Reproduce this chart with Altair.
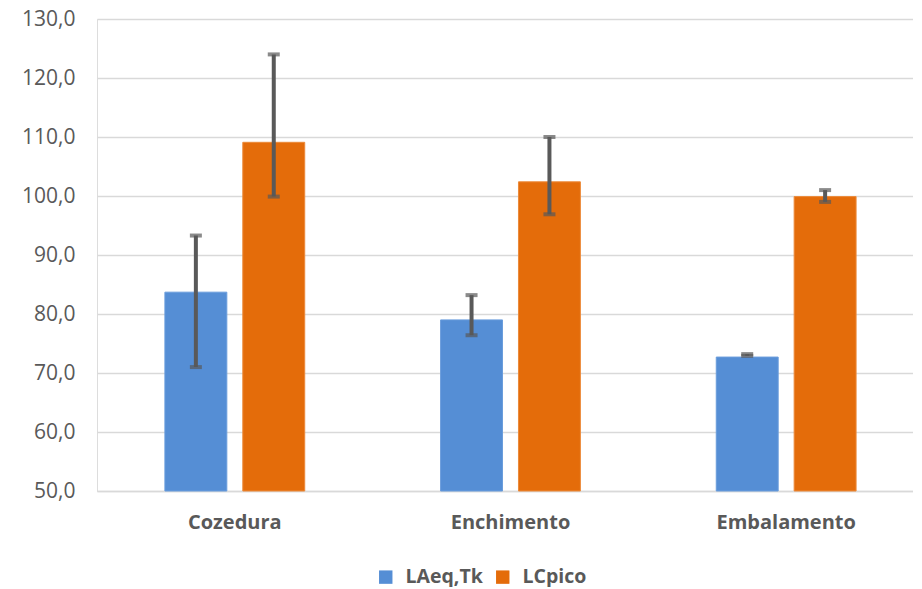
import altair as alt
import pandas as pd

categories = ["Cozedura", "Enchimento", "Embalamento"]
series = ["LAeq,Tk", "LCpico"]
laeq = [83.7, 79.0, 72.7]
laeq_low = [71.0, 76.4, 72.9]
laeq_high = [93.3, 83.2, 73.2]
lcpico = [109.1, 102.4, 99.9]
lcpico_low = [99.9, 96.9, 99.0]
lcpico_high = [124.0, 110.0, 101.0]

rows = []
for i, c in enumerate(categories):
    rows.append({"cat": c, "serie": series[0], "v": laeq[i], "lo": laeq_low[i], "hi": laeq_high[i]})
    rows.append({"cat": c, "serie": series[1], "v": lcpico[i], "lo": lcpico_low[i], "hi": lcpico_high[i]})
df = pd.DataFrame(rows)

FONT = "Open Sans"
GREY = "#595959"

x = alt.X("cat:N", sort=categories, title=None,
          scale=alt.Scale(paddingInner=0.4928, paddingOuter=0.2264, align=0.544),
          axis=alt.Axis(labelAngle=0, labelFontSize=20, labelFontWeight="bold",
                        labelColor=GREY, labelFont=FONT, labelPadding=21,
                        ticks=False, domainColor="#d9d9d9", domainWidth=1.5))
xo = alt.XOffset("serie:N", sort=series, scale=alt.Scale(paddingInner=0.205, paddingOuter=0))

bars = alt.Chart(df).mark_bar(strokeWidth=1).encode(
    x=x, xOffset=xo,
    y=alt.Y("v:Q", title=None,
            scale=alt.Scale(domain=[50, 130], zero=False, nice=False),
            axis=alt.Axis(values=list(range(50, 131, 10)), domain=False, ticks=False,
                          labelExpr="replace(format(datum.value, '.1f'), '.', ',')",
                          labelFontSize=21, labelColor=GREY, labelFont=FONT,
                          labelPadding=22, minExtent=89,
                          gridColor="#d9d9d9", gridWidth=1.5)),
    y2=alt.datum(50),
    color=alt.Color("serie:N", sort=series,
                    scale=alt.Scale(domain=series, range=["#558ED5", "#E46C0A"]),
                    legend=alt.Legend(title=None, orient="none", direction="horizontal",
                                      legendX=279, legendY=548,
                                      symbolType="square", symbolSize=180,
                                      labelFontSize=19.5, labelFontWeight="bold",
                                      labelColor=GREY, labelFont=FONT, labelOffset=10,
                                      columnPadding=10, symbolStrokeWidth=0)),
    stroke=alt.Color("serie:N", sort=series,
                     scale=alt.Scale(domain=series, range=["#6a9ddc", "#ec8a3a"]),
                     legend=None),
)

rules = alt.Chart(df).mark_rule(color=GREY, strokeWidth=4).encode(
    x=x, xOffset=xo, y="lo:Q", y2="hi:Q")
cap_lo = alt.Chart(df).mark_tick(color=GREY, size=12, thickness=4).encode(
    x=x, xOffset=xo, y="lo:Q")
cap_hi = alt.Chart(df).mark_tick(color=GREY, size=12, thickness=4).encode(
    x=x, xOffset=xo, y="hi:Q")

chart = alt.layer(bars, rules, cap_lo, cap_hi).properties(
    width=816, height=472,
    padding={"left": 0, "top": 0, "right": 0, "bottom": 0},
).configure_view(stroke=None).configure(background="white")

chart.save("out.html", embed_options={"renderer": "svg", "actions": False})
